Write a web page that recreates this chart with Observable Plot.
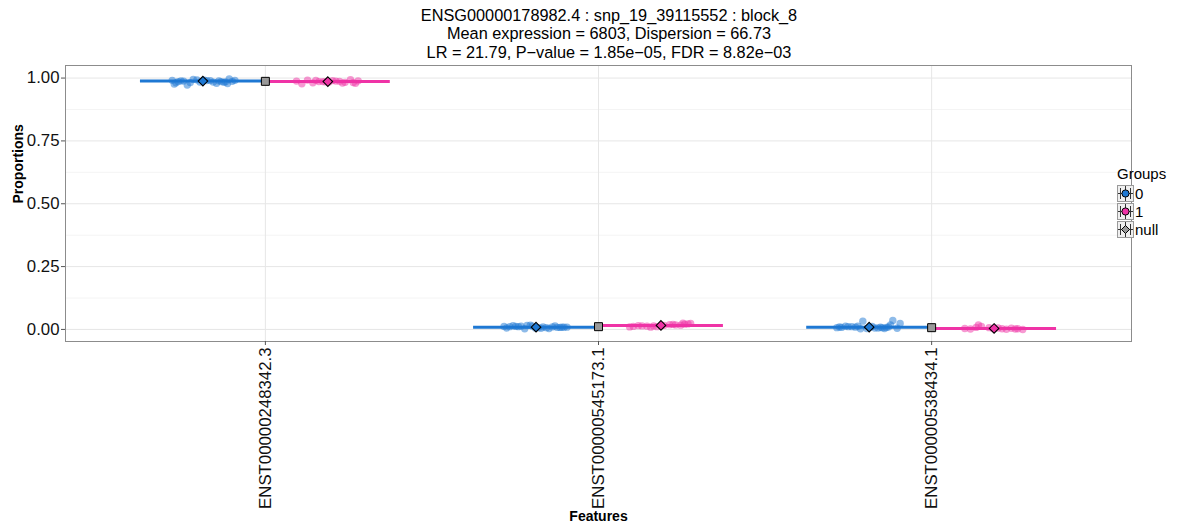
<!DOCTYPE html>
<html>
<head>
<meta charset="utf-8">
<script src="https://cdn.jsdelivr.net/npm/d3@7"></script>
<script src="https://cdn.jsdelivr.net/npm/@observablehq/plot@0.6"></script>
<style>
  html, body { margin: 0; padding: 0; background: #fff; }
  body { font-family: "Liberation Sans", Arial, sans-serif; width: 1200px; height: 531px; overflow: hidden; position: relative; }
  #title { height: 62px; box-sizing: border-box; padding-top: 6px; padding-left: 18px; text-align: center; font-size: 16.3px; line-height: 18.3px; color: #000; }
  #legend { position: absolute; left: 1117px; top: 165px; font-size: 15px; color: #000; }
  #legend .ttl { margin-bottom: 2px; }
  #legend .row { display: flex; align-items: center; height: 18px; }
  #legend .row svg { margin-right: 1px; }
  svg text { font-family: "Liberation Sans", Arial, sans-serif; }
</style>
</head>
<body>
<div id="title"></div>
<div id="chart"></div>
<div id="legend"></div>
<script>
// ---- text ----
const titleLines = [
  "ENSG00000178982.4 : snp_19_39115552 : block_8",
  "Mean expression = 6803, Dispersion = 66.73",
  "LR = 21.79, P\u2212value = 1.85e\u221205, FDR = 8.82e\u221203"
];
const features = ["ENST00000248342.3", "ENST00000545173.1", "ENST00000538434.1"];
const groups = ["0", "1", "null"];
const groupColors = ["#1E78D3", "#EF33A6", "#999999"];
const yTicks = [0, 0.25, 0.5, 0.75, 1];
const yMinor = [0.125, 0.375, 0.625, 0.875];

// ---- group means ----
const meanG0 = [0.988, 0.009, 0.009];
const meanG1 = [0.986, 0.016, 0.004];
const meanNull = [0.987, 0.011, 0.007];

// ---- sample proportions, per feature and group ----
const f1g0 = [0.991,0.984,0.989,0.978,0.993,0.986,0.981,0.990,0.972,0.987,0.995,0.983,0.988,0.992,0.979,0.986,0.990,0.984,0.996,0.982,0.989,0.976,0.991,0.985];
const f1g0j = [-0.092,0.031,-0.066,0.074,-0.018,0.055,-0.081,0.012,-0.047,0.088,-0.029,0.063,-0.058,0.004,0.041,-0.074,0.022,-0.009,0.079,-0.038,0.048,-0.086,0.096,0.068];
const f1g1 = [0.988,0.983,0.992,0.979,0.986,0.990,0.981,0.994,0.985,0.987,0.977,0.989,0.984,0.991,0.982,0.986,0.980,0.988];
const f1g1j = [-0.094,0.052,-0.061,0.083,-0.027,0.014,-0.045,0.068,-0.008,0.035,-0.078,0.091,0.003,-0.036,0.076,-0.015,0.044,0.024];

const f2g0 = [0.010,0.006,0.014,0.003,0.009,0.012,0.007,0.017,0.008,0.011,0.004,0.013,0.009,0.006,0.015,0.010,0.005,0.012,0.008,0.016,0.007,0.011,0.009,0.013];
const f2g0j = [0.021,-0.088,0.057,-0.034,0.093,-0.061,0.006,-0.017,0.072,-0.079,0.039,-0.045,0.084,-0.002,-0.069,0.049,0.015,-0.096,0.064,-0.027,0.031,-0.053,0.078,-0.011];
const f2g1 = [0.018,0.012,0.021,0.009,0.016,0.024,0.014,0.019,0.011,0.017,0.022,0.013,0.015,0.020,0.010,0.016,0.025,0.014];
const f2g1j = [0.044,-0.083,0.071,-0.031,0.009,0.089,-0.057,0.026,-0.012,0.059,0.081,-0.042,-0.068,0.036,-0.094,0.002,0.066,-0.022];

const f3g0 = [0.008,0.004,0.011,0.006,0.013,0.009,0.003,0.010,0.007,0.012,0.005,0.033,0.009,0.006,0.011,0.036,0.008,0.004,0.024,0.010,0.007,0.013,0.018,0.009];
const f3g0j = [-0.083,0.046,-0.052,0.017,-0.071,0.034,-0.026,0.058,-0.097,0.009,0.084,-0.019,-0.041,0.027,-0.063,0.071,0.052,-0.007,0.093,-0.089,0.039,-0.034,0.064,0.003];
const f3g1 = [0.004,0.001,0.008,0.003,0.018,0.006,0.002,0.005,0.012,0.000,0.007,0.003,0.004,0.002];
const f3g1j = [-0.088,0.037,-0.054,0.071,-0.047,0.012,-0.071,0.052,-0.038,0.086,-0.015,0.024,-0.003,0.064];

// ---- build tables ----
const dodge = [-0.1875, 0.1875];
const halfSpan = 0.375;
const sampleSets = [[f1g0, f1g0j, f1g1, f1g1j], [f2g0, f2g0j, f2g1, f2g1j], [f3g0, f3g0j, f3g1, f3g1j]];
const points = [];
sampleSets.forEach((s, fi) => {
  s[0].forEach((v, i) => points.push({x: fi + 1 + dodge[0] + s[1][i], y: v, g: "0"}));
  s[2].forEach((v, i) => points.push({x: fi + 1 + dodge[1] + s[3][i], y: v, g: "1"}));
});
const lines = [];
const meanPts = [];
const nullPts = [];
features.forEach((f, fi) => {
  const c = fi + 1;
  lines.push({x1: c - halfSpan, x2: c, y: meanG0[fi], g: "0"});
  lines.push({x1: c, x2: c + halfSpan, y: meanG1[fi], g: "1"});
  meanPts.push({x: c + dodge[0], y: meanG0[fi], g: "0"});
  meanPts.push({x: c + dodge[1], y: meanG1[fi], g: "1"});
  nullPts.push({x: c, y: meanNull[fi], g: "null"});
});

// ---- title ----
document.getElementById("title").innerHTML = titleLines.map(t => `<div>${t}</div>`).join("");

const color = {domain: groups, range: groupColors};

const chart = Plot.plot({
  width: 1200,
  height: 469,
  marginLeft: 65,
  marginRight: 69,
  marginTop: 3,
  marginBottom: 190,
  style: {fontFamily: "Liberation Sans, Arial, sans-serif", background: "#fff"},
  x: {type: "linear", domain: [0.4, 3.6]},
  y: {domain: [-0.048, 1.05]},
  color: color,
  marks: [
    Plot.gridY(yMinor, {stroke: "#f4f4f4", strokeOpacity: 1, strokeWidth: 1}),
    Plot.gridY(yTicks, {stroke: "#e6e6e6", strokeOpacity: 1, strokeWidth: 1}),
    Plot.gridX([1, 2, 3], {stroke: "#e6e6e6", strokeOpacity: 1, strokeWidth: 1}),
    Plot.ruleY(lines, {y: "y", x1: "x1", x2: "x2", stroke: "g", strokeWidth: 3}),
    Plot.dot(points, {x: "x", y: "y", fill: "g", r: 3.7, fillOpacity: 0.5, stroke: "none"}),
    Plot.dot(meanPts, {x: "x", y: "y", fill: "g", symbol: "diamond2", r: 4.3, stroke: "#000", strokeWidth: 1.1}),
    Plot.dot(nullPts, {x: "x", y: "y", fill: "g", symbol: "square", r: 4.5, stroke: "#000", strokeWidth: 1}),
    Plot.frame({stroke: "#8c8c8c", strokeWidth: 1}),
    Plot.axisY({ticks: yTicks, tickFormat: d3.format(".2f"), tickSize: 4, tickPadding: 2, fontSize: 16.8, label: null, stroke: "#555", color: "#111"}),
    Plot.axisX({ticks: [1, 2, 3], tickFormat: d => features[d - 1], tickRotate: -90, tickSize: 4, tickPadding: 2, fontSize: 16.8, label: null, stroke: "#555", color: "#111"}),
    Plot.text(["Proportions"], {frameAnchor: "left", dx: -47, rotate: -90, text: d => d, fontWeight: "bold", fontSize: 14, fill: "#000"}),
    Plot.text(["Features"], {frameAnchor: "bottom", dy: 179, text: d => d, fontWeight: "bold", fontSize: 14, fill: "#000"})
  ]
});
document.getElementById("chart").appendChild(chart);

// ---- legend ----
const legend = document.getElementById("legend");
let html = `<div class="ttl">Groups</div>`;
groups.forEach((g, i) => {
  const sym = g === "null"
    ? `<path d="M8.5 4.5 L12.5 8.5 L8.5 12.5 L4.5 8.5 Z" fill="${groupColors[i]}" stroke="#000" stroke-width="1"/>`
    : `<circle cx="8.5" cy="8.5" r="3.6" fill="${groupColors[i]}" stroke="#000" stroke-width="1"/>`;
  html += `<div class="row"><svg width="17" height="17">
    <rect x="0.5" y="0.5" width="16" height="16" fill="#efefef" stroke="#9a9a9a"/>
    <line x1="1" y1="8.5" x2="16" y2="8.5" stroke="#333" stroke-width="1"/>
    <line x1="3.5" y1="3" x2="3.5" y2="14" stroke="#333" stroke-width="1"/>
    <line x1="13.5" y1="3" x2="13.5" y2="14" stroke="#333" stroke-width="1"/>
    <line x1="8.5" y1="1" x2="8.5" y2="16" stroke="#333" stroke-width="1"/>
    ${sym}
  </svg><span>${g}</span></div>`;
});
legend.innerHTML = html;
</script>
</body>
</html>
